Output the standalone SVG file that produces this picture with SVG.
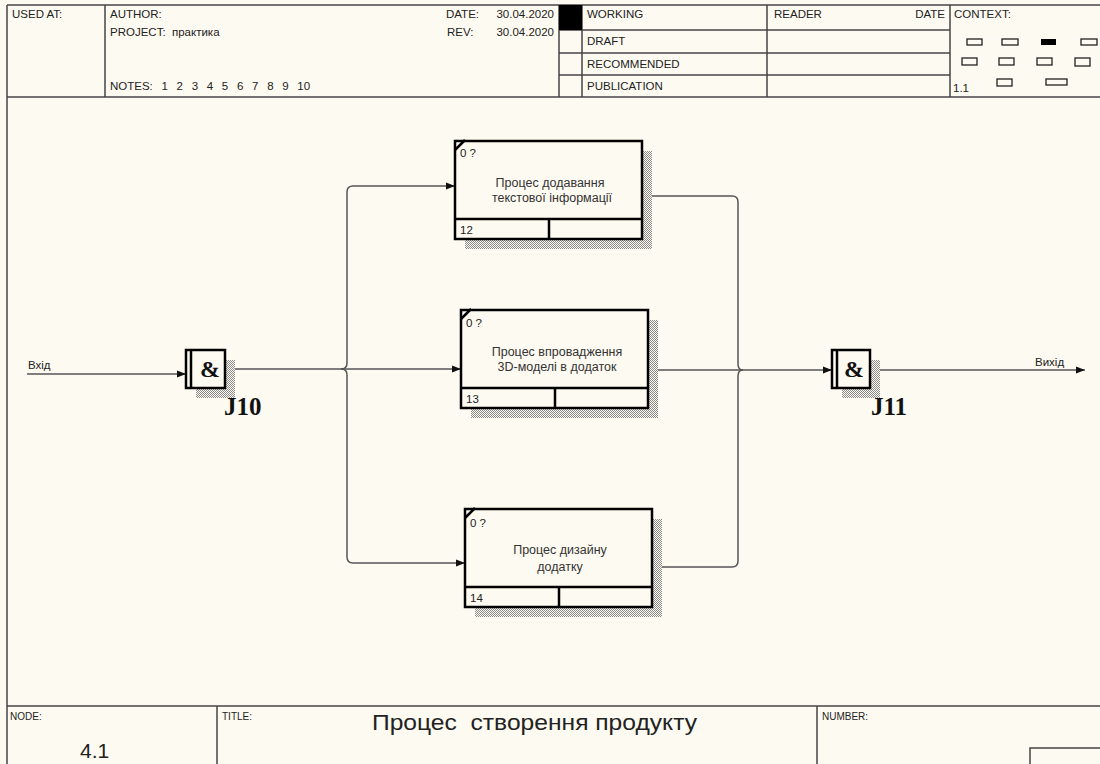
<svg xmlns="http://www.w3.org/2000/svg" width="1100" height="764" viewBox="0 0 1100 764">
<defs>
<pattern id="hatch" width="2" height="2" patternUnits="userSpaceOnUse">
<rect width="2" height="2" fill="#fdfaf1"/>
<rect x="0" y="0" width="1" height="1" fill="#8a8a8a"/>
<rect x="1" y="1" width="1" height="1" fill="#8a8a8a"/>
</pattern>
<marker id="arr" markerUnits="userSpaceOnUse" markerWidth="10" markerHeight="8" refX="9" refY="4" orient="auto">
<path d="M0,0.5 L9,4 L0,7.5 Z" fill="#111"/>
</marker>
</defs>
<style>
text{white-space:pre}
.frame{stroke:#444;stroke-width:1.5;fill:none}
.hd{font-family:"Liberation Sans",Arial,sans-serif;font-size:11.5px;fill:#222}
.ft{font-family:"Liberation Sans",Arial,sans-serif;font-size:10px;fill:#222}
.box{fill:#fdfaf1;stroke:#000;stroke-width:2.5}
.boxln{stroke:#000;stroke-width:2.5;fill:none}
.shadow{fill:url(#hatch)}
.lbl{font-family:"Liberation Sans",Arial,sans-serif;font-size:12.5px;fill:#333;text-anchor:middle}
.sm{font-family:"Liberation Sans",Arial,sans-serif;font-size:11.5px;fill:#222}
.conn{stroke:#555;stroke-width:1.5;fill:none}
.jl{font-family:"Liberation Serif","Times New Roman",serif;font-weight:bold;font-size:25px;fill:#111}
.amp{font-family:"Liberation Serif","Times New Roman",serif;font-weight:bold;font-size:24px;fill:#111;text-anchor:middle}
.small{fill:none;stroke:#222;stroke-width:1.3}
</style>
<rect width="1100" height="764" fill="#fdfaf1"/>

<g id="header">
<line class="frame" x1="7" y1="5" x2="1100" y2="5"/>
<line class="frame" x1="7" y1="97" x2="1100" y2="97"/>
<line class="frame" x1="7" y1="5" x2="7" y2="764"/>
<line class="frame" x1="105" y1="5" x2="105" y2="97"/>
<line class="frame" x1="559" y1="5" x2="559" y2="97"/>
<line class="frame" x1="582" y1="5" x2="582" y2="97"/>
<line class="frame" x1="767" y1="5" x2="767" y2="97"/>
<line class="frame" x1="950" y1="5" x2="950" y2="97"/>
<line class="frame" x1="559" y1="30" x2="950" y2="30"/>
<line class="frame" x1="559" y1="53" x2="950" y2="53"/>
<line class="frame" x1="559" y1="75" x2="950" y2="75"/>
<rect x="559" y="5" width="23" height="25" fill="#000"/>
<text class="hd" x="12" y="18">USED AT:</text>
<text class="hd" x="110" y="18">AUTHOR:</text>
<text class="hd" x="110" y="36">PROJECT:  практика</text>
<text class="hd" x="110" y="90" word-spacing="5.5">NOTES: 1 2 3 4 5 6 7 8 9 10</text>
<text class="hd" x="446" y="18">DATE:</text>
<text class="hd" x="554" y="18" text-anchor="end">30.04.2020</text>
<text class="hd" x="447" y="36">REV:</text>
<text class="hd" x="554" y="36" text-anchor="end">30.04.2020</text>
<text class="hd" x="587" y="18">WORKING</text>
<text class="hd" x="587" y="45">DRAFT</text>
<text class="hd" x="587" y="68">RECOMMENDED</text>
<text class="hd" x="587" y="90">PUBLICATION</text>
<text class="hd" x="774" y="18">READER</text>
<text class="hd" x="945" y="18" text-anchor="end">DATE</text>
<text class="hd" x="954" y="18">CONTEXT:</text>
<text class="hd" x="953" y="92">1.1</text>
<rect class="small" x="967" y="39" width="15" height="6"/>
<rect class="small" x="1002" y="39" width="16" height="6"/>
<rect x="1041" y="39" width="15" height="6" fill="#000"/>
<rect class="small" x="1081" y="39" width="16" height="6"/>
<rect class="small" x="962" y="58" width="15" height="7"/>
<rect class="small" x="999" y="58" width="15" height="7"/>
<rect class="small" x="1037" y="58" width="15" height="7"/>
<rect class="small" x="1075" y="58" width="15" height="8"/>
<rect class="small" x="997" y="79" width="15" height="7"/>
<rect class="small" x="1046" y="79" width="21" height="6"/>
</g>

<g id="footer">
<line class="frame" x1="7" y1="706" x2="1100" y2="706"/>
<line class="frame" x1="217" y1="706" x2="217" y2="764"/>
<line class="frame" x1="817" y1="706" x2="817" y2="764"/>
<rect class="frame" x="1030" y="748" width="80" height="30"/>
<text class="ft" x="10" y="720">NODE:</text>
<text class="ft" x="222" y="720">TITLE:</text>
<text class="ft" x="822" y="720">NUMBER:</text>
<text x="80" y="758" font-family="'Liberation Sans',Arial,sans-serif" font-size="21" fill="#222">4.1</text>
<text x="372" y="730" textLength="325" lengthAdjust="spacingAndGlyphs" font-family="'Liberation Sans',Arial,sans-serif" font-size="22" fill="#222">Процес  створення продукту</text>
</g>

<g id="connectors">
<path class="conn" d="M27,374 H186" marker-end="url(#arr)"/>
<path class="conn" d="M225,369 H461" marker-end="url(#arr)"/>
<path class="conn" d="M341,369 Q347,369 347,363 V192 Q347,186 353,186 H455" marker-end="url(#arr)"/>
<path class="conn" d="M341,369 Q347,369 347,375 V557 Q347,563 353,563 H465" marker-end="url(#arr)"/>
<path class="conn" d="M642,196 H732 Q738,196 738,202 V364 Q738,370 743,370"/>
<path class="conn" d="M652,567 H732 Q738,567 738,561 V376 Q738,370 743,370"/>
<path class="conn" d="M648,370 H832" marker-end="url(#arr)"/>
<path class="conn" d="M870,370 H1085" marker-end="url(#arr)"/>
<text class="sm" x="28" y="369">Вхід</text>
<text class="sm" x="1035" y="366">Вихід</text>
</g>

<g id="box12">
<rect class="shadow" x="465" y="151" width="187" height="98"/>
<rect class="box" x="455" y="141" width="187" height="98"/>
<line class="boxln" x1="455" y1="219" x2="642" y2="219"/>
<line class="boxln" x1="549" y1="219" x2="549" y2="239"/>
<line class="boxln" x1="455" y1="150" x2="465" y2="140" stroke-width="1.5"/>
<text class="sm" x="460" y="157">0 ?</text>
<text class="lbl" x="550" y="187">Процес додавання</text>
<text class="lbl" x="552" y="202">текстової інформації</text>
<text class="sm" x="460" y="234">12</text>
</g>

<g id="box13">
<rect class="shadow" x="471" y="320" width="187" height="98"/>
<rect class="box" x="461" y="310" width="187" height="98"/>
<line class="boxln" x1="461" y1="388" x2="648" y2="388"/>
<line class="boxln" x1="555" y1="388" x2="555" y2="408"/>
<line class="boxln" x1="461" y1="319" x2="471" y2="309" stroke-width="1.5"/>
<text class="sm" x="466" y="327">0 ?</text>
<text class="lbl" x="557" y="356">Процес впровадження</text>
<text class="lbl" x="557" y="371">3D-моделі в додаток</text>
<text class="sm" x="466" y="403">13</text>
</g>

<g id="box14">
<rect class="shadow" x="475" y="519" width="187" height="98"/>
<rect class="box" x="465" y="509" width="187" height="98"/>
<line class="boxln" x1="465" y1="587" x2="652" y2="587"/>
<line class="boxln" x1="559" y1="587" x2="559" y2="607"/>
<line class="boxln" x1="465" y1="518" x2="475" y2="508" stroke-width="1.5"/>
<text class="sm" x="470" y="527">0 ?</text>
<text class="lbl" x="560" y="554">Процес дизайну</text>
<text class="lbl" x="560" y="571">додатку</text>
<text class="sm" x="470" y="602">14</text>
</g>

<g id="J10">
<rect class="shadow" x="196" y="360" width="39" height="38"/>
<rect class="box" x="186" y="350" width="39" height="38"/>
<line class="boxln" x1="191" y1="350" x2="191" y2="388"/>
<text class="amp" x="210" y="377">&amp;</text>
<text class="jl" x="224" y="415">J10</text>
</g>

<g id="J11">
<rect class="shadow" x="842" y="360" width="38" height="38"/>
<rect class="box" x="832" y="350" width="38" height="38"/>
<line class="boxln" x1="837" y1="350" x2="837" y2="388"/>
<text class="amp" x="854" y="377">&amp;</text>
<text class="jl" x="871" y="415">J11</text>
</g>
</svg>
